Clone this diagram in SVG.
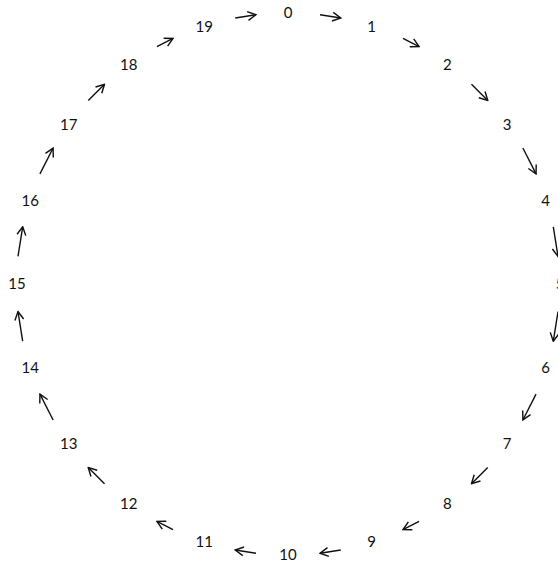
<svg xmlns="http://www.w3.org/2000/svg" width="558" height="564" viewBox="0 0 558 564">
<style>
text{font-family:Lato,"Open Sans","DejaVu Sans",sans-serif;font-size:15px;fill:#111;text-anchor:middle}
.e line{stroke:#111;stroke-width:1.4;fill:none;marker-end:url(#ah)}
</style>
<defs>
<marker id="ah" markerUnits="userSpaceOnUse" viewBox="0 0 10 10" refX="9" refY="5" markerWidth="11" markerHeight="11" orient="auto">
<path d="M1.5,1 L9,5 L1.5,9" fill="none" stroke="#111" stroke-width="1.3"/>
</marker>
</defs>
<rect width="558" height="564" fill="#fff"/>
<g class="e" id="connectors">
<line x1="320.02" y1="14.70" x2="340.76" y2="17.98"/>
<line x1="403.01" y1="38.45" x2="419.05" y2="46.63"/>
<line x1="471.50" y1="84.24" x2="487.76" y2="100.50"/>
<line x1="522.88" y1="148.05" x2="536.04" y2="173.89"/>
<line x1="553.31" y1="226.79" x2="558.01" y2="256.43"/>
<line x1="558.01" y1="311.57" x2="553.31" y2="341.21"/>
<line x1="536.04" y1="394.11" x2="522.88" y2="419.95"/>
<line x1="487.76" y1="467.50" x2="471.50" y2="483.76"/>
<line x1="419.05" y1="521.37" x2="403.01" y2="529.55"/>
<line x1="340.76" y1="550.02" x2="320.02" y2="553.30"/>
<line x1="255.98" y1="553.30" x2="235.24" y2="550.02"/>
<line x1="172.99" y1="529.55" x2="156.95" y2="521.37"/>
<line x1="104.50" y1="483.76" x2="88.24" y2="467.50"/>
<line x1="53.12" y1="419.95" x2="39.96" y2="394.11"/>
<line x1="22.69" y1="341.21" x2="17.99" y2="311.57"/>
<line x1="17.99" y1="256.43" x2="22.69" y2="226.79"/>
<line x1="39.96" y1="173.89" x2="53.12" y2="148.05"/>
<line x1="88.24" y1="100.50" x2="104.50" y2="84.24"/>
<line x1="156.95" y1="46.63" x2="172.99" y2="38.45"/>
<line x1="235.24" y1="17.98" x2="255.98" y2="14.70"/>
</g>
<g id="n0"><text x="288" y="18.3">0</text></g>
<g id="n1"><text x="371.7" y="31.6">1</text></g>
<g id="n2"><text x="447.3" y="70.1">2</text></g>
<g id="n3"><text x="507.2" y="130">3</text></g>
<g id="n4"><text x="545.7" y="205.6">4</text></g>
<g id="n5"><text x="560" y="289.3">5</text></g>
<g id="n6"><text x="545.7" y="373">6</text></g>
<g id="n7"><text x="507.2" y="448.6">7</text></g>
<g id="n8"><text x="447.3" y="508.5">8</text></g>
<g id="n9"><text x="371.7" y="547">9</text></g>
<g id="n10"><text x="288" y="560.3">10</text></g>
<g id="n11"><text x="204.3" y="547">11</text></g>
<g id="n12"><text x="128.7" y="508.5">12</text></g>
<g id="n13"><text x="68.8" y="448.6">13</text></g>
<g id="n14"><text x="30.3" y="373">14</text></g>
<g id="n15"><text x="17" y="289.3">15</text></g>
<g id="n16"><text x="30.3" y="205.6">16</text></g>
<g id="n17"><text x="68.8" y="130">17</text></g>
<g id="n18"><text x="128.7" y="70.1">18</text></g>
<g id="n19"><text x="204.3" y="31.6">19</text></g>
</svg>
